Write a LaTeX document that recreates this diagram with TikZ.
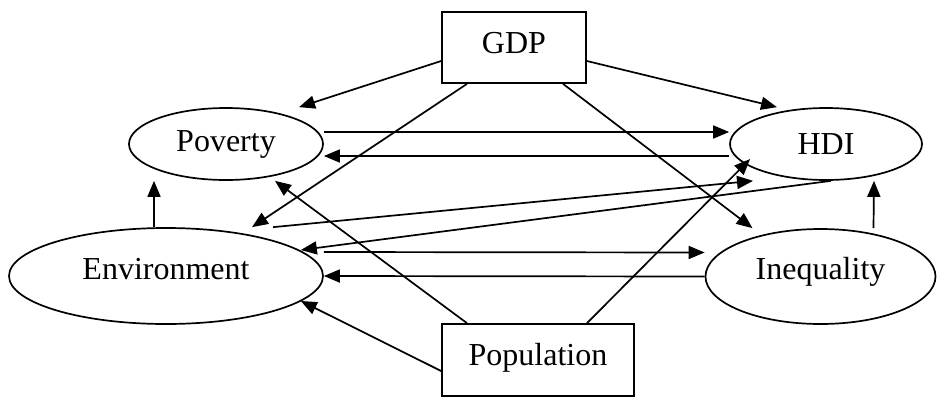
\documentclass[tikz,border=0pt]{standalone}
\usepackage{fontspec}
\setmainfont{Liberation Serif}
\usepackage{tikz}
\usetikzlibrary{shapes.geometric}
\usetikzlibrary{arrows.meta}
\tikzset{link/.style = {-{Triangle[length=16pt,width=13pt]}}}

\begin{document}
\begin{tikzpicture}[x=1pt,y=-1pt,line width=1.7pt,
    main node/.style={ellipse,draw,inner sep=0pt,text height=21pt,font=\fontsize{32}{38}\selectfont},
    box node/.style={rectangle,draw,inner sep=0pt,text height=21pt,text depth=10pt,font=\fontsize{32}{38}\selectfont}]
            \useasboundingbox (0,0) rectangle (937,397);

            \node[box node,minimum width=144pt,minimum height=71pt] (gdp) at (514,47.5) {GDP};
            \node[main node,minimum width=194pt,minimum height=72pt] (pov) at (226,144) {Poverty};
            \node[main node,minimum width=192pt,minimum height=72pt] (hdi) at (826,144) {HDI};
            \node[main node,minimum width=314pt,minimum height=96pt,text depth=15pt] (env) at (166,276) {Environment};
            \node[main node,minimum width=230pt,minimum height=95pt,text depth=15pt] (ineq) at (820.5,276.5) {Inequality};
            \node[box node,minimum width=192pt,minimum height=72pt] (pop) at (538,360) {Population};

            % from GDP
            \path[link] ([yshift=-13.5pt]gdp.west) edge ([xshift=73pt]pov.north);
            \path[link] ([xshift=-47pt]gdp.south) edge ([xshift=86pt]env.north);
            \path[link] ([yshift=-13.5pt]gdp.east) edge ([xshift=-49pt]hdi.north);
            \path[link] ([xshift=49pt]gdp.south) edge ([xshift=-68pt]ineq.north);

            \path[link] ([yshift=12pt]pov.east) edge ([yshift=12pt]hdi.west);
            \path[link] ([yshift=-12pt]hdi.west) edge ([yshift=-12pt]pov.east);
            \path[link] ([xshift=-12pt]env.north) edge ([xshift=-72pt]pov.south);
            \path[link] ([xshift=53pt]ineq.north) edge ([xshift=48pt]hdi.south);

            \path[link] ([xshift=107pt]env.north) edge ([xshift=-73pt]hdi.south);
            \path[link] ([xshift=5pt]hdi.south) edge ([xshift=-23pt,yshift=26pt]env.east);
            \path[link] ([yshift=24pt]env.east) edge ([yshift=24pt]ineq.west);
            \path[link] (ineq.west) edge (env.east);

            % from Population
            \path[link] ([xshift=-71pt]pop.north) edge ([xshift=49pt]pov.south);
            \path[link] ([xshift=49pt]pop.north) edge ([xshift=21pt,yshift=-15pt]hdi.west);
            \path[link] ([yshift=-11pt]pop.west) edge ([xshift=-23pt,yshift=-25pt]env.east);
        \end{tikzpicture}
\end{document}
